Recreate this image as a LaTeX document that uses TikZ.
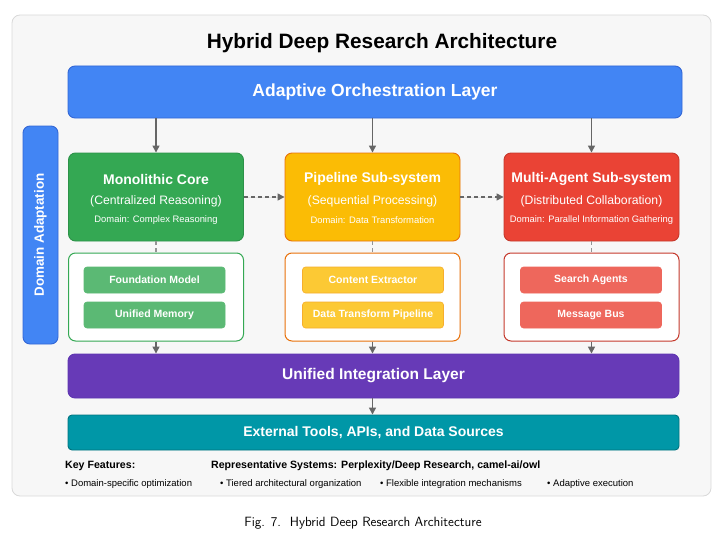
\documentclass[tikz,border=0pt]{standalone}
\usepackage{fontspec}
\usetikzlibrary{arrows.meta,positioning}
\newfontfamily\arialfont{Liberation Sans}

\definecolor{orchblue}{HTML}{4285F4}
\definecolor{orchedge}{HTML}{3367D6}
\definecolor{monogreen}{HTML}{34A853}
\definecolor{monoedge}{HTML}{2D9249}
\definecolor{monolight}{HTML}{5BB974}
\definecolor{pipeyellow}{HTML}{FBBC05}
\definecolor{pipeedge}{HTML}{E8710A}
\definecolor{pipelight}{HTML}{FCC934}
\definecolor{pipelightedge}{HTML}{F6AE2D}
\definecolor{agentred}{HTML}{EA4335}
\definecolor{agentedge}{HTML}{C5392C}
\definecolor{agentlight}{HTML}{EE675C}
\definecolor{integpurple}{HTML}{673AB7}
\definecolor{integedge}{HTML}{5E35B1}
\definecolor{extteal}{HTML}{0097A7}
\definecolor{extedge}{HTML}{00737F}
\definecolor{arrowgray}{HTML}{666666}

\tikzset{
  layer/.style={draw, line width=0.9pt, rounded corners=7pt, text=white, align=center, inner sep=0pt,
    font=\arialfont\bfseries},
  subsys/.style={draw, line width=0.9pt, rounded corners=7pt, minimum width=175pt, minimum height=88pt, inner sep=0pt},
  panel/.style={draw, line width=1pt, fill=white, rounded corners=7pt, minimum width=175pt, minimum height=88pt, inner sep=0pt},
  part/.style={draw, line width=0.6pt, rounded corners=3pt, minimum width=141pt, minimum height=26pt, inner sep=0pt,
    text=white, font=\arialfont\bfseries\fontsize{10.5}{12}\selectfont},
  subtitle/.style={text=white, inner sep=0pt, font=\arialfont\bfseries\fontsize{14}{16}\selectfont},
  subrole/.style={text=white, inner sep=0pt, font=\arialfont\fontsize{12.2}{14}\selectfont},
  subdomain/.style={text=white, inner sep=0pt, font=\arialfont\fontsize{9.4}{11}\selectfont},
  keytext/.style={anchor=west, inner sep=0pt, font=\arialfont\fontsize{9.5}{11}\selectfont},
  keyhead/.style={anchor=west, inner sep=0pt, font=\arialfont\bfseries\fontsize{10.6}{12}\selectfont},
  arr/.style={-{Triangle[length=7pt,width=7pt]}, draw=arrowgray, fill=arrowgray, line width=1.4pt},
  dasharr/.style={-{Triangle[length=7pt,width=7pt]}, draw=arrowgray, fill=arrowgray, line width=1.4pt, dash pattern=on 4pt off 3pt},
  dashlink/.style={draw=arrowgray!70, line width=1.2pt, dash pattern=on 4pt off 3pt}
}

\begin{document}
\begin{tikzpicture}[x=1pt,y=-1pt]
	\useasboundingbox (0,0) rectangle (720,535);
	\draw[draw=black!15, fill=black!3, line width=0.8pt, rounded corners=8pt] (12,15) rectangle (711,496);

	\node[inner sep=0pt, font=\arialfont\bfseries\fontsize{20.8}{24}\selectfont] (title) at (382,43) {Hybrid Deep Research Architecture};

	% layers
	\node[layer, fill=orchblue, draw=orchedge, minimum width=614pt, minimum height=52pt, font=\arialfont\bfseries\fontsize{17.5}{20}\selectfont] (orch) at (375,92) {Adaptive Orchestration Layer};
	\node[layer, fill=orchblue, draw=orchedge, minimum width=35pt, minimum height=218pt] (domain) at (40.5,235) {};
	\node[rotate=90, text=white, inner sep=0pt, font=\arialfont\bfseries\fontsize{13.4}{15}\selectfont] (domain-text) at (domain.center) {Domain Adaptation};

	% sub-systems
	\node[subsys, fill=monogreen, draw=monoedge] (mono) at (156,197) {};
	\node[subsys, fill=pipeyellow, draw=pipeedge] (pipe) at (372.5,197) {};
	\node[subsys, fill=agentred, draw=agentedge] (agent) at (591.5,197) {};

	\node[subtitle] (mono-title) at ([yshift=18pt]mono.center) {Monolithic Core};
	\node[subrole] (mono-role) at ([yshift=-4pt]mono.center) {(Centralized Reasoning)};
	\node[subdomain] (mono-domain) at ([yshift=-23pt]mono.center) {Domain: Complex Reasoning};

	\node[subtitle] (pipe-title) at ([yshift=18pt]pipe.center) {Pipeline Sub-system};
	\node[subrole] (pipe-role) at ([yshift=-4pt]pipe.center) {(Sequential Processing)};
	\node[subdomain] (pipe-domain) at ([yshift=-23pt]pipe.center) {Domain: Data Transformation};

	\node[subtitle] (agent-title) at ([yshift=18pt]agent.center) {Multi-Agent Sub-system};
	\node[subrole] (agent-role) at ([yshift=-4pt]agent.center) {(Distributed Collaboration)};
	\node[subdomain] (agent-domain) at ([yshift=-23pt]agent.center) {Domain: Parallel Information Gathering};

	% component panels
	\node[panel, draw=monogreen] (mono-panel) at (156,297) {};
	\node[panel, draw=pipeedge] (pipe-panel) at (372.5,297) {};
	\node[panel, draw=agentedge] (agent-panel) at (591.5,297) {};

	\node[part, fill=monolight, draw=monolight] (foundation) at (154.5,280) {Foundation Model};
	\node[part, fill=monolight, draw=monolight] (memory) at (154.5,315) {Unified Memory};
	\node[part, fill=pipelight, draw=pipelightedge] (extractor) at (373,280) {Content Extractor};
	\node[part, fill=pipelight, draw=pipelightedge] (transform) at (373,315) {Data Transform Pipeline};
	\node[part, fill=agentlight, draw=agentlight] (search) at (591,280) {Search Agents};
	\node[part, fill=agentlight, draw=agentlight] (bus) at (591,315) {Message Bus};

	% bottom layers
	\node[layer, fill=integpurple, draw=integedge, minimum width=611pt, minimum height=44pt, font=\arialfont\bfseries\fontsize{15.5}{18}\selectfont] (integ) at (373.5,376) {Unified Integration Layer};
	\node[layer, fill=extteal, draw=extedge, minimum width=611pt, minimum height=35pt, rounded corners=4pt, font=\arialfont\bfseries\fontsize{14}{16}\selectfont] (ext) at (373.5,432.5) {External Tools, APIs, and Data Sources};

	% connectors
	\draw[arr] (mono.north |- orch.south) -- (mono.north);
	\draw[arr] (pipe.north |- orch.south) -- (pipe.north);
	\draw[arr] (agent.north |- orch.south) -- (agent.north);

	\draw[dasharr] (mono.east) -- (pipe.west);
	\draw[dasharr] (pipe.east) -- (agent.west);

	\draw[dashlink] (mono.south) -- (mono-panel.north);
	\draw[dashlink] (pipe.south) -- (pipe-panel.north);
	\draw[dashlink] (agent.south) -- (agent-panel.north);

	\draw[arr] (mono-panel.south) -- (mono-panel.south |- integ.north);
	\draw[arr] (pipe-panel.south) -- (pipe-panel.south |- integ.north);
	\draw[arr] (agent-panel.south) -- (agent-panel.south |- integ.north);

	\draw[arr] (pipe-panel.south |- integ.south) -- (pipe-panel.south |- ext.north);

	% key features
	\node[keyhead] (key-head) at (65,466) {Key Features:};
	\node[keyhead] (systems) at (211,466) {Representative Systems: Perplexity/Deep Research, camel-ai/owl};
	\node[keytext] (feat1) at (65,484) {\textbullet\ Domain-specific optimization};
	\node[keytext] (feat2) at (220,484) {\textbullet\ Tiered architectural organization};
	\node[keytext] (feat3) at (380,484) {\textbullet\ Flexible integration mechanisms};
	\node[keytext] (feat4) at (547,484) {\textbullet\ Adaptive execution};

	\node[inner sep=0pt, font=\sffamily\fontsize{13.4}{15}\selectfont] (caption) at (363,523) {Fig. 7.\ \ Hybrid Deep Research Architecture};
\end{tikzpicture}
\end{document}
